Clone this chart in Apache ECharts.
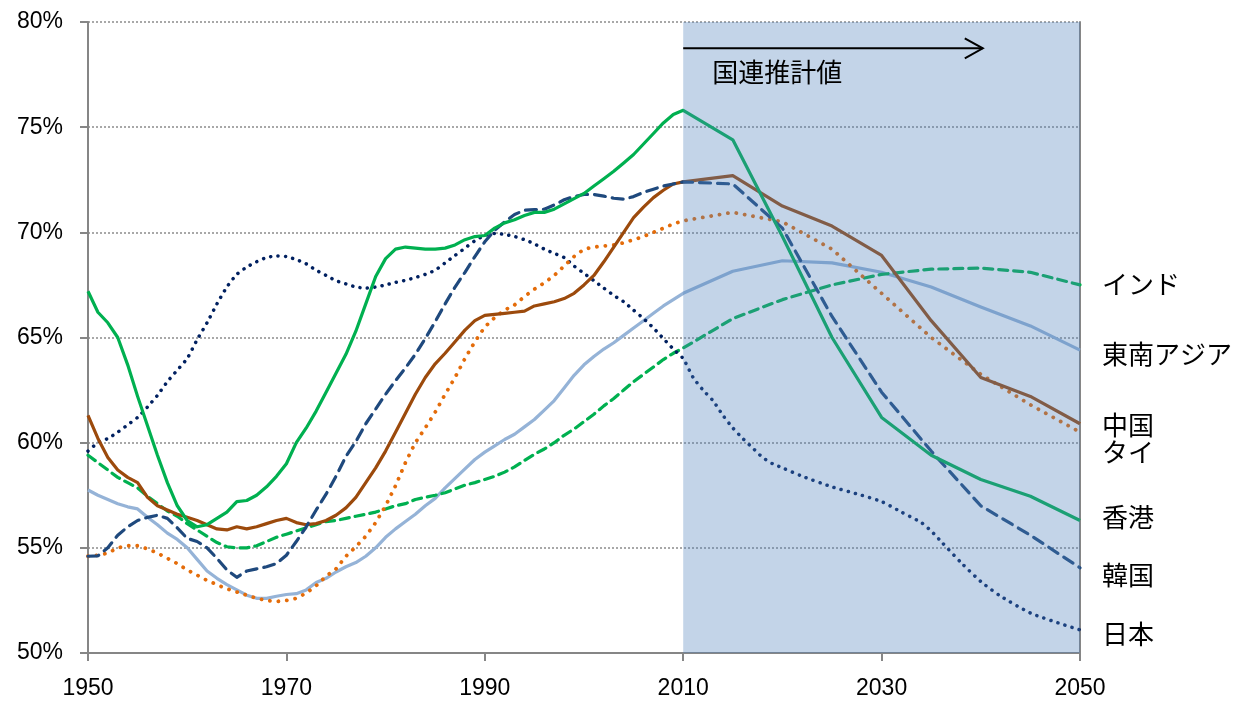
<!DOCTYPE html>
<html>
<head>
<meta charset="utf-8">
<script src="https://cdn.jsdelivr.net/npm/echarts@6/dist/echarts.min.js"></script>
<style>
  html, body { margin: 0; padding: 0; background: #fff; }
  #chart { width: 1247px; height: 709px; }
</style>
</head>
<body>
<div id="chart"></div>
<script>
  // 生産年齢人口比率 (%)  [年, 値]
  const hongKong = [[1950,67.2],[1951,66.2],[1952,65.7],[1953,65.0],[1954,63.7],[1955,62.2],[1956,60.8],[1957,59.4],[1958,58.1],[1959,57.0],[1960,56.3],[1961,56.0],[1962,56.1],[1963,56.4],[1964,56.7],[1965,57.2],[1966,57.25],[1967,57.5],[1968,57.9],[1969,58.4],[1970,59.0],[1971,60.0],[1972,60.7],[1973,61.5],[1974,62.4],[1975,63.3],[1976,64.2],[1977,65.3],[1978,66.6],[1979,67.9],[1980,68.75],[1981,69.2],[1982,69.3],[1983,69.25],[1984,69.2],[1985,69.2],[1986,69.25],[1987,69.4],[1988,69.65],[1989,69.8],[1990,69.85],[1991,70.2],[1992,70.45],[1993,70.6],[1994,70.8],[1995,70.95],[1996,70.95],[1997,71.1],[1998,71.35],[1999,71.6],[2000,71.85],[2001,72.2],[2002,72.55],[2003,72.9],[2004,73.3],[2005,73.7],[2006,74.2],[2007,74.7],[2008,75.2],[2009,75.6],[2010,75.8],[2015,74.4],[2020,69.8],[2025,65.0],[2030,61.2],[2035,59.4],[2040,58.25],[2045,57.45],[2050,56.3]]
  const china = [[1950,61.3],[1951,60.2],[1952,59.3],[1953,58.7],[1954,58.35],[1955,58.1],[1956,57.4],[1957,57.0],[1958,56.8],[1959,56.6],[1960,56.45],[1961,56.3],[1962,56.1],[1963,55.9],[1964,55.85],[1965,56.0],[1966,55.9],[1967,56.0],[1968,56.15],[1969,56.3],[1970,56.4],[1971,56.2],[1972,56.1],[1973,56.15],[1974,56.3],[1975,56.55],[1976,56.9],[1977,57.4],[1978,58.1],[1979,58.8],[1980,59.6],[1981,60.5],[1982,61.4],[1983,62.3],[1984,63.1],[1985,63.75],[1986,64.25],[1987,64.8],[1988,65.35],[1989,65.8],[1990,66.05],[1991,66.1],[1992,66.15],[1993,66.2],[1994,66.25],[1995,66.5],[1996,66.6],[1997,66.7],[1998,66.85],[1999,67.1],[2000,67.5],[2001,67.95],[2002,68.6],[2003,69.3],[2004,70.0],[2005,70.7],[2006,71.2],[2007,71.65],[2008,72.0],[2009,72.3],[2010,72.4],[2015,72.7],[2020,71.25],[2025,70.3],[2030,68.9],[2035,65.8],[2040,63.1],[2045,62.2],[2050,60.9]]
  const thailand = [[1950,54.6],[1951,54.65],[1952,54.75],[1953,55.0],[1954,55.1],[1955,55.1],[1956,54.95],[1957,54.75],[1958,54.5],[1959,54.25],[1960,53.95],[1961,53.7],[1962,53.45],[1963,53.25],[1964,53.05],[1965,52.9],[1966,52.75],[1967,52.6],[1968,52.5],[1969,52.45],[1970,52.5],[1971,52.6],[1972,52.85],[1973,53.2],[1974,53.65],[1975,54.0],[1976,54.6],[1977,55.05],[1978,55.55],[1979,56.2],[1980,57.0],[1981,57.95],[1982,59.05],[1983,60.0],[1984,60.7],[1985,61.45],[1986,62.3],[1987,63.1],[1988,64.0],[1989,64.8],[1990,65.5],[1991,65.95],[1992,66.3],[1993,66.55],[1994,66.95],[1995,67.3],[1996,67.6],[1997,67.95],[1998,68.4],[1999,68.85],[2000,69.2],[2001,69.3],[2002,69.35],[2003,69.4],[2004,69.5],[2005,69.65],[2006,69.8],[2007,70.0],[2008,70.2],[2009,70.4],[2010,70.55],[2015,70.95],[2020,70.5],[2025,69.2],[2030,67.1],[2035,65.0],[2040,63.25],[2045,61.8],[2050,60.5]]
  const korea = [[1950,54.6],[1951,54.62],[1952,55.0],[1953,55.6],[1954,56.0],[1955,56.3],[1956,56.45],[1957,56.55],[1958,56.4],[1959,55.95],[1960,55.45],[1961,55.3],[1962,55.0],[1963,54.5],[1964,53.95],[1965,53.6],[1966,53.9],[1967,54.0],[1968,54.1],[1969,54.25],[1970,54.65],[1971,55.3],[1972,56.0],[1973,56.8],[1974,57.55],[1975,58.4],[1976,59.35],[1977,60.05],[1978,60.9],[1979,61.6],[1980,62.3],[1981,62.95],[1982,63.55],[1983,64.2],[1984,64.95],[1985,65.75],[1986,66.6],[1987,67.4],[1988,68.1],[1989,68.85],[1990,69.55],[1991,70.1],[1992,70.5],[1993,70.85],[1994,71.05],[1995,71.08],[1996,71.1],[1997,71.3],[1998,71.55],[1999,71.7],[2000,71.8],[2001,71.8],[2002,71.72],[2003,71.62],[2004,71.58],[2005,71.7],[2006,71.9],[2007,72.05],[2008,72.2],[2009,72.3],[2010,72.4],[2015,72.3],[2020,70.2],[2025,66.0],[2030,62.4],[2035,59.6],[2040,57.0],[2045,55.6],[2050,54.05]]
  const japan = [[1950,59.6],[1951,60.0],[1952,60.2],[1953,60.5],[1954,60.85],[1955,61.2],[1956,61.7],[1957,62.25],[1958,62.9],[1959,63.45],[1960,64.0],[1961,64.9],[1962,65.7],[1963,66.6],[1964,67.4],[1965,68.0],[1966,68.35],[1967,68.6],[1968,68.8],[1969,68.88],[1970,68.85],[1971,68.7],[1972,68.5],[1973,68.2],[1974,67.95],[1975,67.7],[1976,67.55],[1977,67.4],[1978,67.35],[1979,67.4],[1980,67.5],[1981,67.62],[1982,67.72],[1983,67.85],[1984,68.0],[1985,68.2],[1986,68.55],[1987,68.9],[1988,69.25],[1989,69.6],[1990,69.85],[1991,69.95],[1992,69.9],[1993,69.8],[1994,69.65],[1995,69.45],[1996,69.2],[1997,69.0],[1998,68.8],[1999,68.4],[2000,68.05],[2001,67.7],[2002,67.35],[2003,67.0],[2004,66.7],[2005,66.3],[2006,65.9],[2007,65.45],[2008,64.95],[2009,64.45],[2010,64.0],[2011,63.1],[2012,62.5],[2013,62.0],[2014,61.3],[2015,60.7],[2016,60.2],[2017,59.75],[2018,59.3],[2019,59.0],[2020,58.8],[2022,58.4],[2025,57.9],[2028,57.5],[2030,57.2],[2032,56.7],[2034,56.2],[2035,55.8],[2036,55.3],[2038,54.3],[2040,53.4],[2042,52.7],[2045,51.9],[2048,51.4],[2050,51.1]]
  const india = [[1950,59.4],[1951,59.05],[1952,58.7],[1953,58.35],[1954,58.1],[1955,57.85],[1956,57.45],[1957,57.1],[1958,56.75],[1959,56.5],[1960,56.15],[1961,55.85],[1962,55.55],[1963,55.25],[1964,55.05],[1965,55.0],[1966,55.0],[1967,55.1],[1968,55.3],[1969,55.5],[1970,55.65],[1971,55.8],[1972,55.95],[1973,56.1],[1974,56.25],[1975,56.3],[1976,56.4],[1977,56.5],[1978,56.6],[1979,56.7],[1980,56.85],[1981,57.0],[1982,57.1],[1983,57.3],[1984,57.4],[1985,57.5],[1986,57.62],[1987,57.8],[1988,57.98],[1989,58.1],[1990,58.25],[1991,58.4],[1992,58.6],[1993,58.85],[1994,59.15],[1995,59.45],[1996,59.7],[1997,60.0],[1998,60.35],[1999,60.65],[2000,61.0],[2001,61.35],[2002,61.75],[2003,62.1],[2004,62.5],[2005,62.9],[2006,63.25],[2007,63.6],[2008,63.95],[2009,64.25],[2010,64.5],[2015,65.9],[2020,66.8],[2025,67.5],[2030,68.0],[2035,68.25],[2040,68.3],[2045,68.1],[2050,67.5]]
  const seAsia = [[1950,57.75],[1951,57.5],[1952,57.3],[1953,57.1],[1954,56.95],[1955,56.85],[1956,56.45],[1957,56.1],[1958,55.7],[1959,55.4],[1960,55.0],[1961,54.45],[1962,53.9],[1963,53.55],[1964,53.25],[1965,53.0],[1966,52.75],[1967,52.6],[1968,52.6],[1969,52.7],[1970,52.78],[1971,52.82],[1972,53.0],[1973,53.35],[1974,53.55],[1975,53.85],[1976,54.1],[1977,54.3],[1978,54.6],[1979,55.0],[1980,55.5],[1981,55.9],[1982,56.25],[1983,56.6],[1984,57.0],[1985,57.35],[1986,57.85],[1987,58.3],[1988,58.75],[1989,59.2],[1990,59.55],[1991,59.85],[1992,60.15],[1993,60.4],[1994,60.75],[1995,61.1],[1996,61.55],[1997,62.0],[1998,62.6],[1999,63.2],[2000,63.7],[2001,64.1],[2002,64.45],[2003,64.75],[2004,65.1],[2005,65.45],[2006,65.8],[2007,66.15],[2008,66.5],[2009,66.8],[2010,67.1],[2015,68.15],[2020,68.65],[2025,68.55],[2030,68.1],[2035,67.4],[2040,66.45],[2045,65.55],[2050,64.4]]

  // 右側ラベル (文字, 画面上の中心y)
  const endLabels = [['インド', 284], ['東南アジア', 354], ['中国', 425], ['タイ', 452], ['香港', 517], ['韓国', 575], ['日本', 634]]
  const forecastStart = 2010
  const forecastEnd = 2050

  const chart = echarts.init(document.getElementById('chart'))

  function lineSeries(name, data, color, width, dash, smooth) {
    return {
      name: name,
      type: 'line',
      data: data,
      symbol: 'none',
      smooth: smooth || false,
      lineStyle: {
        color: color,
        width: width,
        type: dash || 'solid',
        cap: dash ? 'round' : 'butt',
        join: 'round'
      },
      animation: false
    }
  }

  let series = [
    lineSeries('東南アジア', seAsia, '#95b3d7', 3.2),
    lineSeries('インド', india, '#00b050', 3.2, [9, 6]),
    lineSeries('日本', japan, '#002060', 3.5, [0.1, 7.3], 0.2),
    lineSeries('タイ', thailand, '#e46c0a', 3.8, [0.1, 8.4]),
    lineSeries('中国', china, '#9c4a0c', 3.2),
    lineSeries('韓国', korea, '#1f497d', 3.2, [11, 7]),
    lineSeries('香港', hongKong, '#00b050', 3.2)
  ]
  // 国連推計値の範囲 (線の上に半透明で重ねる)
  series[0].markArea = {
    silent: true,
    z: 10,
    itemStyle: { color: 'rgba(79,129,189,0.34)' },
    data: [[{ xAxis: forecastStart, yAxis: 50 }, { xAxis: forecastEnd, yAxis: 80 }]]
  }

  let option = {
    backgroundColor: '#ffffff',
    animation: false,
    grid: { left: 88, right: 167, top: 22, bottom: 56, containLabel: false },
    xAxis: {
      type: 'value',
      min: 1950,
      max: 2050,
      interval: 20,
      axisLine: { lineStyle: { color: '#868686', width: 2 } },
      axisTick: { show: true, length: 8, lineStyle: { color: '#868686', width: 2 } },
      axisLabel: { color: '#000', fontSize: 23, fontFamily: 'Liberation Sans', margin: 24, formatter: function (v) { return String(v) } },
      splitLine: { show: false }
    },
    yAxis: [
      {
        type: 'value',
        min: 50,
        max: 80,
        interval: 5,
        axisLine: { show: true, lineStyle: { color: '#868686', width: 2 } },
        axisTick: { show: true, length: 8, lineStyle: { color: '#868686', width: 2 } },
        axisLabel: { color: '#000', fontSize: 23, fontFamily: 'Liberation Sans', margin: 25, formatter: '{value}%' },
        splitLine: { show: true, lineStyle: { color: '#8c8c8c', width: 1.5, type: [2, 2] } }
      },
      {
        type: 'value',
        min: 50,
        max: 80,
        interval: 5,
        position: 'right',
        axisLine: { show: true, lineStyle: { color: '#868686', width: 2 } },
        axisTick: { show: false },
        axisLabel: { show: false },
        splitLine: { show: false }
      }
    ],
    series: series
  }
  chart.setOption(option)

  // 矢印と注記
  let p0 = chart.convertToPixel({ xAxisIndex: 0, yAxisIndex: 0 }, [forecastStart, 78.75])
  let p1 = chart.convertToPixel({ xAxisIndex: 0, yAxisIndex: 0 }, [2040.2, 78.75])
  let graphics = [
    {
      type: 'line', z: 100,
      shape: { x1: p0[0], y1: p0[1], x2: p1[0], y2: p1[1] },
      style: { stroke: '#000', lineWidth: 2 }
    },
    {
      type: 'polyline', z: 100,
      shape: { points: [[p1[0] - 18, p1[1] - 10], [p1[0], p1[1]], [p1[0] - 18, p1[1] + 10]] },
      style: { stroke: '#000', lineWidth: 2, fill: null }
    },
    {
      type: 'text', z: 100,
      x: p0[0] + 29, y: p0[1] + 24,
      style: { text: '国連推計値', fill: '#000', font: '26px "Noto Sans CJK JP"', verticalAlign: 'middle' }
    }
  ]
  endLabels.forEach(function (item) {
    graphics.push({
      type: 'text', z: 100,
      x: 1102, y: item[1],
      style: { text: item[0], fill: '#000', font: '26px "Noto Sans CJK JP"', verticalAlign: 'middle' }
    })
  })
  chart.setOption({ graphic: graphics })
</script>
</body>
</html>
